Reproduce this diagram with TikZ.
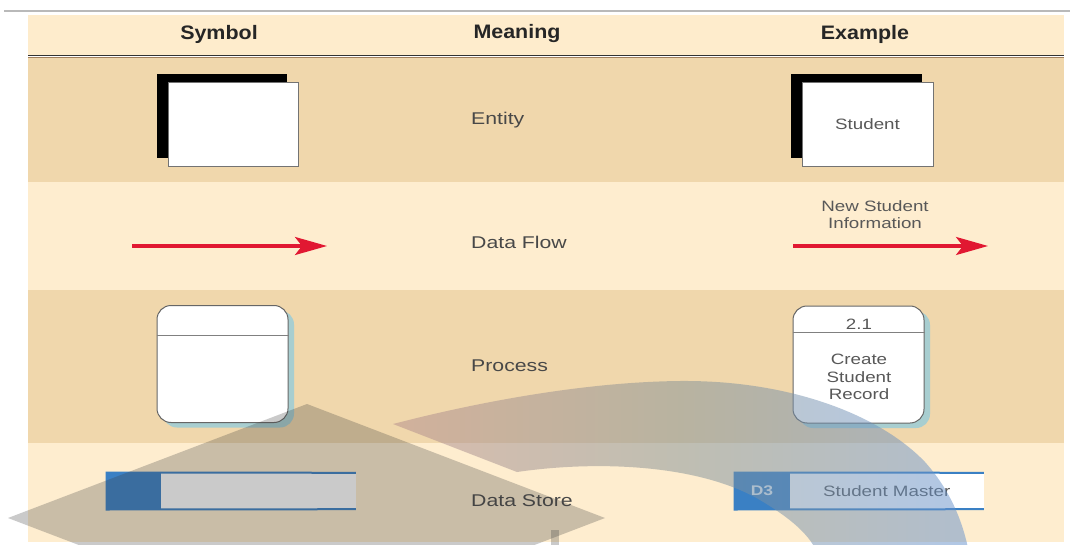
\documentclass[tikz,border=0pt]{standalone}
\usepackage{fontspec}
\setmainfont{Liberation Sans}[FakeStretch=1.25]
\newfontfamily\hdrfont{Liberation Sans}[FakeStretch=1.1]
\usetikzlibrary{arrows.meta,positioning,calc,shadows}

\definecolor{rowdark}{RGB}{240,215,172}
\definecolor{rowlight}{RGB}{254,237,207}
\definecolor{hdrbg}{RGB}{254,236,204}
\definecolor{flowred}{RGB}{225,24,50}
\definecolor{storeblue}{RGB}{58,128,196}
\definecolor{procshadow}{RGB}{168,206,208}
\definecolor{txtgray}{RGB}{72,72,72}
\definecolor{exgray}{RGB}{88,88,88}
\definecolor{bandred}{RGB}{180,140,140}
\definecolor{bandmid}{RGB}{130,145,150}
\definecolor{bandblue}{RGB}{100,145,205}

\begin{document}
\begin{tikzpicture}[x=1pt, y=-1pt,
  hdr/.style={font=\hdrfont\bfseries\fontsize{19.5}{22}\selectfont, text=black!85},
  meaning/.style={anchor=west, inner sep=0pt, font=\fontsize{17}{20}\selectfont, text=txtgray},
  extext/.style={align=center, inner sep=0pt, font=\fontsize{15}{17.5}\selectfont, text=exgray},
  entity/.style={draw=black!55, line width=0.8pt, fill=white, minimum width=130pt, minimum height=84pt, inner sep=0pt,
    general shadow={fill=black, shadow xshift=-11pt, shadow yshift=8pt}},
  process/.style={draw=black!60, line width=1pt, fill=white, rounded corners=14pt, minimum width=131pt, minimum height=117pt, inner sep=0pt,
    general shadow={fill=procshadow, shadow xshift=6pt, shadow yshift=-5pt}},
  divider/.style={draw=black!50, line width=1pt},
  flow/.style={draw=flowred, line width=3.2pt, -{Stealth[length=32pt, width=18pt, inset=7pt]}},
  storeid/.style={fill=storeblue, draw=storeblue, line width=1pt, minimum width=53pt, minimum height=36pt, inner sep=0pt,
    font=\bfseries\fontsize{14}{16}\selectfont, text=white!85!storeblue},
  storebody/.style={fill=white, minimum width=195pt, minimum height=36pt, inner sep=0pt, font=\fontsize{15}{17}\selectfont, text=exgray},
  storeline/.style={draw=storeblue, line width=2pt},
  capgray/.style={fill={rgb,255:red,60;green,60;blue,60}, opacity=0.27},
  band/.style={left color=bandred, right color=bandblue, middle color=bandmid, opacity=0.5}]

\useasboundingbox (0,0) rectangle (1070,545);
\fill[white] (0,0) rectangle (1070,545);
\draw[gray!55, line width=1.2pt] (4,11) -- (1070,11);

% table rows
\fill[hdrbg] (28,15) rectangle (1064,55);
\fill[rowdark] (28,58) rectangle (1064,182);
\fill[rowlight] (28,182) rectangle (1064,290);
\fill[rowdark] (28,290) rectangle (1064,443);
\fill[rowlight] (28,443) rectangle (1064,542);
\draw[black!80, line width=1.6pt] (28,55.5) -- (1064,55.5);
\draw[brown!55!gray, line width=1pt] (28,58) -- (1064,58);

\node[hdr] (hsym) at (219,34) {Symbol};
\node[hdr] (hmean) at (517,34) {Meaning};
\node[hdr] (hex) at (865,34) {Example};

% entity
\node[entity] (entsym) at (233,124) {};
\node[meaning] (ment) at (471,120) {Entity};
\node[entity, minimum width=131pt, extext] (entex) at (867.5,124) {Student};

% data flow
\coordinate (flowsa) at (132,246);
\coordinate (flowsb) at (327,246);
\coordinate (flowea) at (793,246);
\coordinate (floweb) at (988,246);
\node[meaning] (mflow) at (471,242) {Data Flow};
\node[extext] (flowlbl) at (875,214.5) {New Student\\Information};

% process
\node[process] (procsym) at (222.5,364) {};
\node[meaning] (mproc) at (471,366) {Process};
\node[process] (procex) at (858.5,364.5) {};
\node[extext] (procnum) at (859,324) {2.1};
\node[extext] (proctxt) at (859,377) {Create\\Student\\Record};

% data store
\node[storeid] (dsid) at (133.5,491) {};
\node[storebody, right=0pt of dsid] (dsbody) {};
\node[meaning] (mstore) at (471,501) {Data Store};
\node[storeid, minimum width=54pt] (dsexid) at (762,491) {D3};
\node[storebody, minimum width=194pt, right=0pt of dsexid] (dsexbody) {Student Master};

% Arrows
\draw[flow] (flowsa) -- (flowsb);
\draw[flow] (flowea) -- (floweb);
\draw[divider] ($(procsym.north west)+(0,30)$) -- ($(procsym.north east)+(0,30)$);
\draw[divider] ($(procex.north west)+(0,27)$) -- ($(procex.north east)+(0,27)$);
\draw[storeline] (dsbody.north east) -- (dsid.north west) -- (dsid.south west) -- (dsbody.south east);
\draw[storeline] (dsexbody.north east) -- (dsexid.north west) -- (dsexid.south west) -- (dsexbody.south east);

% overlay cap
\begin{scope}
\clip (0,0) rectangle (1070,545);
\fill[capgray] (307,404) -- (605,518) -- (307,632) -- (8,518) -- cycle;
\fill[capgray] (551,530) rectangle (559,545);
\shade[band] (393,424) .. controls (470,404) and (580,382) .. (680,381)
  .. controls (790,380) and (880,415) .. (925,462)
  .. controls (950,490) and (962,520) .. (968,548) -- (815,548)
  .. controls (805,530) and (785,515) .. (760,500)
  .. controls (700,465) and (600,460) .. (517,472) -- cycle;
\end{scope}

\end{tikzpicture}
\end{document}
